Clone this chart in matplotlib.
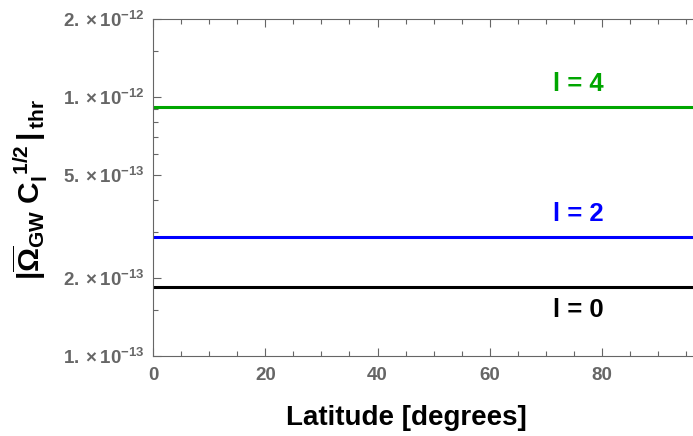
import matplotlib
matplotlib.use("Agg")
import matplotlib.pyplot as plt
import matplotlib.ticker as ticker
import numpy as np

plt.rcParams['font.family'] = ['Liberation Sans', 'DejaVu Sans']
plt.rcParams['mathtext.fontset'] = 'custom'
plt.rcParams['mathtext.rm'] = 'Liberation Sans:bold'
plt.rcParams['mathtext.it'] = 'Liberation Sans:bold'
plt.rcParams['mathtext.bf'] = 'Liberation Sans:bold'
plt.rcParams['mathtext.sf'] = 'Liberation Sans:bold'

# Data: thresholds are flat in latitude
latitude = [0, 96.2]
ell_labels = ["l = 0", "l = 2", "l = 4"]
thresholds = [1.85e-13, 2.89e-13, 9.17e-13]
colors = ["#000000", "#0000ff", "#00a600"]
label_offsets = [-17, 16, 16]  # points, below/above the line

yticks = [1e-13, 2e-13, 5e-13, 1e-12, 2e-12]
ytick_labels = [r"$1.\times10^{-13}$", r"$2.\times10^{-13}$", r"$5.\times10^{-13}$",
                r"$1.\times10^{-12}$", r"$2.\times10^{-12}$"]
yminor = [1.5e-13, 3e-13, 4e-13, 6e-13, 7e-13, 8e-13, 9e-13, 1.5e-12]
xticks = [0, 20, 40, 60, 80]

gray = "#666666"

fig = plt.figure(figsize=(6.93, 4.36), dpi=100)
ax = fig.add_axes([153 / 693, 1 - 356 / 436, 1 - 153 / 693, (356 - 19) / 436])

for val, col, lab, off in zip(thresholds, colors, ell_labels, label_offsets):
    ax.plot(latitude, [val, val], color=col, lw=2.2, solid_capstyle='butt')
    ax.annotate(lab, xy=(75.7, val), xytext=(0, off), textcoords='offset points',
                ha='center', va='center', color=col, fontsize=18.5, fontweight='bold')

ax.set_yscale('log')
ax.set_xlim(0, 96.2)
ax.set_ylim(1e-13, 2e-12)

ax.set_yticks(yticks)
ax.set_yticklabels(ytick_labels)
ax.yaxis.set_minor_locator(ticker.FixedLocator(yminor))
ax.yaxis.set_minor_formatter(ticker.NullFormatter())
ax.set_xticks(xticks)
ax.xaxis.set_minor_locator(ticker.MultipleLocator(5))

ax.tick_params(which='both', direction='in', color=gray, top=True, right=False,
               labelcolor=gray, labelsize=13.5)
ax.tick_params(which='major', length=6, width=0.8)
ax.tick_params(which='minor', length=3.5, width=0.8)
ax.tick_params(axis='x', pad=8)
ax.tick_params(axis='y', pad=6)
for lbl in ax.get_xticklabels():
    lbl.set_fontweight('bold')

for side in ['left', 'bottom', 'top']:
    ax.spines[side].set_color(gray)
    ax.spines[side].set_linewidth(0.8)
ax.spines['right'].set_visible(False)

fig.text(406 / 693, 1 - 418 / 436, "Latitude [degrees]", ha='center', va='center',
         fontsize=20, fontweight='bold')
fig.text(30 / 693, 1 - 190 / 436,
         r"$|\overline{\Omega}_{GW}\;C_{l}^{\;1/2}\,|_{\,thr}$",
         rotation=90, ha='center', va='center', fontsize=21.5)

fig.savefig("out.png", dpi=100)
